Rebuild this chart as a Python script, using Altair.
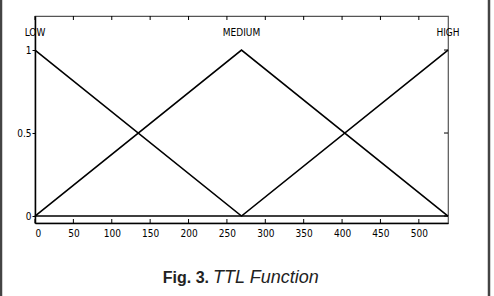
import altair as alt
import pandas as pd

# ---- data ----
x_points = [0, 269, 538]
low = [1, 0, 0]
medium = [0, 1, 0]
high = [0, 0, 1]
mf_names = ["LOW", "MEDIUM", "HIGH"]
label_x = [0, 269, 538]
label_y = [1.1, 1.1, 1.1]
x_ticks = [0, 50, 100, 150, 200, 250, 300, 350, 400, 450, 500]
y_ticks = [0, 0.5, 1]
caption_bold = "Fig. 3."
caption_italic = "TTL Function"

rows = []
for name, ys in zip(mf_names, [low, medium, high]):
    for xv, yv in zip(x_points, ys):
        rows.append({"mf": name, "x": xv, "y": yv})
lines_df = pd.DataFrame(rows)
labels_df = pd.DataFrame({"name": mf_names, "x": label_x, "y": label_y})
xt_df = pd.DataFrame({"x": x_ticks})
yt_df = pd.DataFrame({"y": y_ticks})

W, H = 413, 207
FONT = "Liberation Sans Narrow, Arial Narrow, DejaVu Sans Condensed, sans-serif"

xscale = alt.Scale(domain=[0, 538], nice=False, zero=False)
yscale = alt.Scale(domain=[-0.042, 1.205], nice=False, zero=False)

x_axis = alt.Axis(values=x_ticks, ticks=False, tickSize=0, labelPadding=5, grid=False,
                  domainColor="black", domainWidth=1.5, labelFont=FONT, labelFontSize=10,
                  labelColor="black", title=None)
y_axis = alt.Axis(values=y_ticks, format="~g", ticks=True, tickSize=3, labelPadding=1, grid=False,
                  domainColor="black", domainWidth=1.5, labelFont=FONT, labelFontSize=10,
                  labelColor="black", tickColor="black", title=None)

lines = alt.Chart(lines_df).mark_line(color="black", strokeWidth=1.6).encode(
    x=alt.X("x:Q", scale=xscale, axis=x_axis),
    y=alt.Y("y:Q", scale=yscale, axis=y_axis),
    detail="mf:N",
)

labels = alt.Chart(labels_df).mark_text(font=FONT, fontSize=10, color="black",
                                        align="center", baseline="middle").encode(
    x=alt.X("x:Q", scale=xscale), y=alt.Y("y:Q", scale=yscale), text="name:N"
)

top_ticks = alt.Chart(xt_df).mark_rule(color="black", strokeWidth=1).encode(
    x=alt.X("x:Q", scale=xscale), y=alt.value(0), y2=alt.value(4)
)
bottom_ticks = alt.Chart(xt_df).mark_rule(color="black", strokeWidth=1).encode(
    x=alt.X("x:Q", scale=xscale), y=alt.value(H), y2=alt.value(H - 4)
)
right_ticks = alt.Chart(yt_df).mark_rule(color="black", strokeWidth=1).encode(
    y=alt.Y("y:Q", scale=yscale), x=alt.value(W), x2=alt.value(W - 4)
)

left_border = alt.Chart(xt_df.head(1)).mark_rule(color="#444", strokeWidth=2.5).encode(
    x=alt.value(-34), y=alt.value(-16), y2=alt.value(296 - 16)
)
right_border = alt.Chart(xt_df.head(1)).mark_rule(color="#444", strokeWidth=2.5).encode(
    x=alt.value(489 - 35), y=alt.value(-16), y2=alt.value(296 - 16)
)

cap1 = alt.Chart(pd.DataFrame({"t": [caption_bold]})).mark_text(
    font="Liberation Sans, Arial, sans-serif", fontSize=16, fontWeight="bold",
    align="right", baseline="alphabetic", color="#222"
).encode(x=alt.value(209 - 35), y=alt.value(283 - 16), text="t:N")
cap2 = alt.Chart(pd.DataFrame({"t": [caption_italic]})).mark_text(
    font="Liberation Sans, Arial, sans-serif", fontSize=18, fontStyle="italic",
    align="left", baseline="alphabetic", color="#222"
).encode(x=alt.value(213 - 35), y=alt.value(283 - 16), text="t:N")

chart = alt.layer(
    lines, labels, top_ticks, bottom_ticks, right_ticks,
    left_border, right_border, cap1, cap2
).properties(
    width=W, height=H,
    autosize=alt.AutoSizeParams(type="none"),
    padding={"left": 35, "top": 16, "right": 494 - 35 - W, "bottom": 296 - 16 - H},
    background="white",
).configure_view(stroke="#555", strokeWidth=1.2)

chart.save("out.html", embed_options={"renderer": "svg", "actions": False})
